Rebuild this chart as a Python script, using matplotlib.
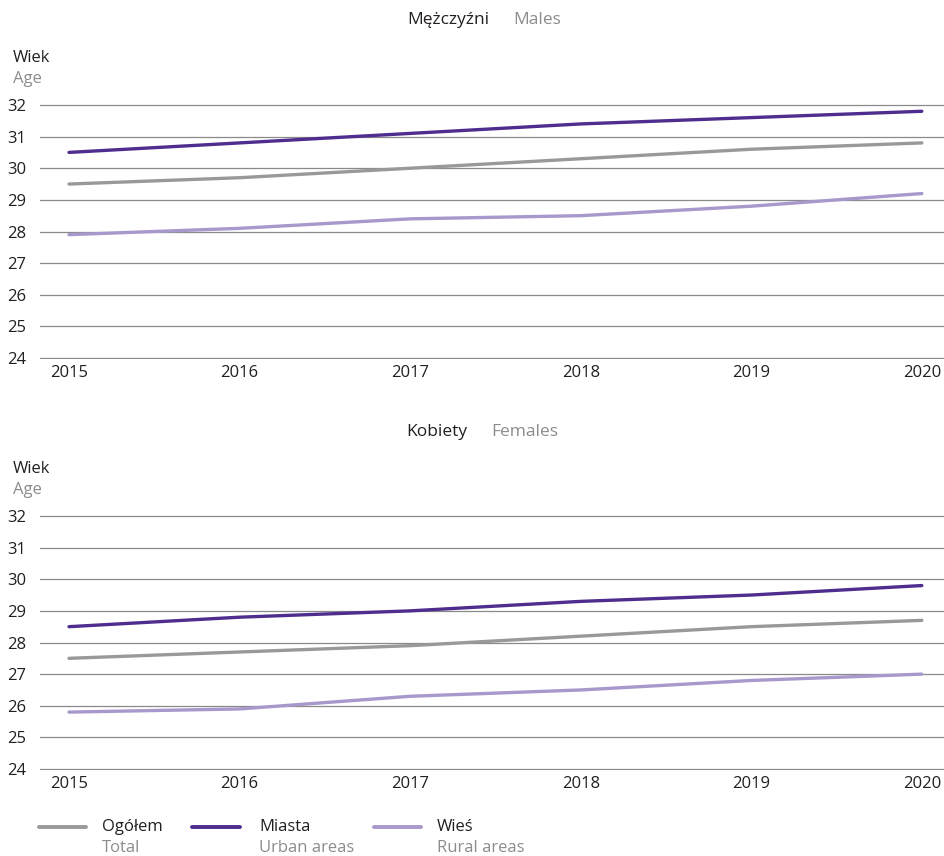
import matplotlib.pyplot as plt
from matplotlib.lines import Line2D

plt.rcParams['font.family'] = ['Open Sans', 'DejaVu Sans']

years = [2015, 2016, 2017, 2018, 2019, 2020]

# Mężczyźni / Males
males_total = [29.5, 29.7, 30.0, 30.3, 30.6, 30.8]
males_urban = [30.5, 30.8, 31.1, 31.4, 31.6, 31.8]
males_rural = [27.9, 28.1, 28.4, 28.5, 28.8, 29.2]

# Kobiety / Females
females_total = [27.5, 27.7, 27.9, 28.2, 28.5, 28.7]
females_urban = [28.5, 28.8, 29.0, 29.3, 29.5, 29.8]
females_rural = [25.8, 25.9, 26.3, 26.5, 26.8, 27.0]

c_total = '#999999'
c_urban = '#4e2d8e'
c_rural = '#a898cb'
dark = '#231f20'
grey = '#8c8c8c'

W, H = 944, 856
fig = plt.figure(figsize=(W / 100, H / 100), dpi=100)


def fx(px):
    return px / W


def fy(py):
    return 1 - py / H


def panel(top_px, bottom_px, total, urban, rural, title_pl, title_en, title_y, split_x):
    ax = fig.add_axes([fx(40), fy(bottom_px), 1 - fx(40), fy(top_px) - fy(bottom_px)])
    ax.plot(years, total, color=c_total, lw=2.4, solid_capstyle='round', zorder=3)
    ax.plot(years, urban, color=c_urban, lw=2.4, solid_capstyle='round', zorder=3)
    ax.plot(years, rural, color=c_rural, lw=2.4, solid_capstyle='round', zorder=3)
    ax.set_ylim(23.97, 32.03)
    ax.set_xlim(2014.83, 2020.13)
    ax.set_yticks(range(24, 33))
    ax.set_xticks(years)
    ax.grid(axis='y', color='#8a8a8a', lw=0.9)
    ax.set_axisbelow(True)
    for s in ax.spines.values():
        s.set_visible(False)
    ax.tick_params(length=0, labelsize=12, colors=dark)
    for lab in ax.get_yticklabels():
        lab.set_horizontalalignment('left')
        lab.set_x(-28 / (W - 40))
    ax.tick_params(axis='x', pad=4)
    # title
    fig.text(fx(split_x - 12), fy(title_y), title_pl, ha='right', va='center', fontsize=12.5, color=dark)
    fig.text(fx(split_x + 12), fy(title_y), title_en, ha='left', va='center', fontsize=12.5, color=grey)
    fig.text(fx(13), fy(top_px - 46), 'Wiek', ha='left', va='center', fontsize=12, color=dark)
    fig.text(fx(13), fy(top_px - 25), 'Age', ha='left', va='center', fontsize=12, color=grey)
    return ax


panel(104, 359, males_total, males_urban, males_rural, 'Mężczyźni', 'Males', 20, 501)
panel(515, 770, females_total, females_urban, females_rural, 'Kobiety', 'Females', 432, 479)

# legend
legend_items = [
    (c_total, 39, 86, 102, 'Ogółem', 'Total'),
    (c_urban, 192, 240, 259, 'Miasta', 'Urban areas'),
    (c_rural, 374, 421, 437, 'Wieś', 'Rural areas'),
]
for col, x0, x1, xt, pl, en in legend_items:
    fig.add_artist(Line2D([fx(x0), fx(x1)], [fy(827), fy(827)], color=col, lw=2.8,
                          solid_capstyle='round', transform=fig.transFigure))
    fig.text(fx(xt), fy(827), pl, ha='left', va='center', fontsize=12, color=dark)
    fig.text(fx(xt), fy(848), en, ha='left', va='center', fontsize=12, color=grey)

fig.savefig('out.png', dpi=100)
